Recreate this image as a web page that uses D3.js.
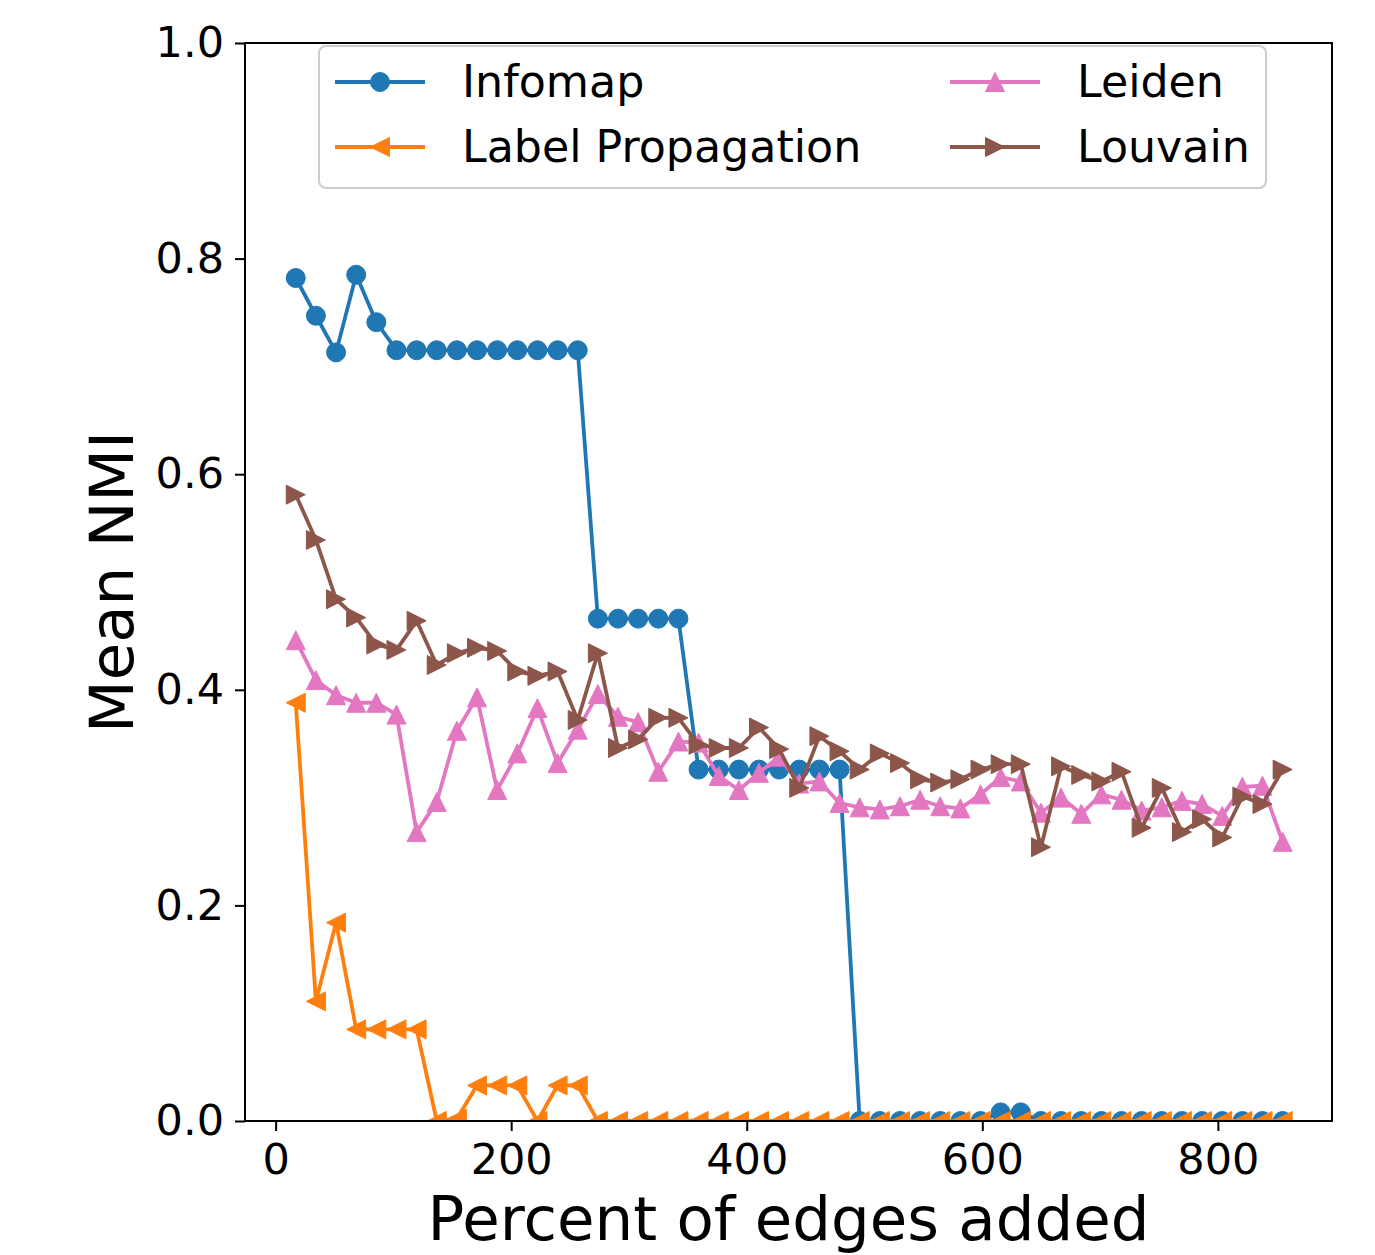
<!DOCTYPE html>
<html>
<head>
<meta charset="utf-8">
<script src="https://cdn.jsdelivr.net/npm/d3@7"></script>
<style>
  body { margin: 0; background: #fff; }
  svg { display: block; }
  text { font-family: "DejaVu Sans", sans-serif; fill: #000; }
</style>
</head>
<body>
<svg id="chart" width="1375" height="1255"></svg>
<script>
// ---- data ----
const percentAdded = [17.1, 34.2, 51.3, 68.4, 85.5, 102.6, 119.7, 136.8, 153.9, 171.0,
  188.1, 205.2, 222.3, 239.4, 256.5, 273.6, 290.7, 307.8, 324.9, 342.0,
  359.1, 376.2, 393.3, 410.4, 427.5, 444.6, 461.7, 478.8, 495.9, 513.0,
  530.1, 547.2, 564.3, 581.4, 598.5, 615.6, 632.7, 649.8, 666.9, 684.0,
  701.1, 718.2, 735.3, 752.4, 769.5, 786.6, 803.7, 820.8, 837.9, 855.0];

const infomap = [0.782, 0.747, 0.713, 0.785, 0.741, 0.715, 0.715, 0.715, 0.715, 0.715,
  0.715, 0.715, 0.715, 0.715, 0.715, 0.466, 0.466, 0.466, 0.466, 0.466,
  0.326, 0.326, 0.326, 0.326, 0.326, 0.326, 0.326, 0.326, 0.0, 0.0,
  0.0, 0.0, 0.0, 0.0, 0.0, 0.008, 0.008, 0.0, 0.0, 0.0,
  0.0, 0.0, 0.0, 0.0, 0.0, 0.0, 0.0, 0.0, 0.0, 0.0];

const labelPropagation = [0.388, 0.111, 0.184, 0.085, 0.085, 0.085, 0.085, 0.0, 0.002, 0.033,
  0.033, 0.033, 0.0, 0.033, 0.033, 0.0, 0.0, 0.0, 0.0, 0.0,
  0.0, 0.0, 0.0, 0.0, 0.0, 0.0, 0.0, 0.0, 0.0, 0.0,
  0.0, 0.0, 0.0, 0.0, 0.0, 0.0, 0.0, 0.0, 0.0, 0.0,
  0.0, 0.0, 0.0, 0.0, 0.0, 0.0, 0.0, 0.0, 0.0, 0.0];

const leiden = [0.446, 0.409, 0.395, 0.388, 0.388, 0.377, 0.268, 0.296, 0.362, 0.393,
  0.307, 0.341, 0.383, 0.332, 0.363, 0.396, 0.375, 0.370, 0.324, 0.352,
  0.351, 0.320, 0.307, 0.323, 0.338, 0.313, 0.315, 0.295, 0.291, 0.289,
  0.292, 0.298, 0.292, 0.290, 0.303, 0.319, 0.315, 0.286, 0.300, 0.285,
  0.303, 0.298, 0.288, 0.291, 0.297, 0.294, 0.283, 0.310, 0.311, 0.259];

const louvain = [0.581, 0.539, 0.484, 0.467, 0.442, 0.437, 0.464, 0.423, 0.434, 0.439,
  0.436, 0.417, 0.413, 0.417, 0.372, 0.434, 0.346, 0.354, 0.374, 0.374,
  0.349, 0.346, 0.346, 0.365, 0.345, 0.309, 0.357, 0.343, 0.326, 0.341,
  0.332, 0.317, 0.314, 0.317, 0.326, 0.331, 0.331, 0.254, 0.329, 0.321,
  0.315, 0.324, 0.272, 0.309, 0.268, 0.280, 0.263, 0.301, 0.294, 0.326];

const seriesNames = ["Infomap", "Label Propagation", "Leiden", "Louvain"];
const seriesColors = ["#1f77b4", "#ff7f0e", "#e377c2", "#8c564b"];
const seriesMarkers = ["circle", "triangleLeft", "triangleUp", "triangleRight"];
const xTicks = [0, 200, 400, 600, 800];
const yTicks = [0.0, 0.2, 0.4, 0.6, 0.8, 1.0];
const xLabel = "Percent of edges added";
const yLabel = "Mean NMI";

// ---- layout ----
const svg = d3.select("#chart");
const L = 245, R = 1332, T = 43, B = 1121;
const x = d3.scaleLinear().domain([-26.0, 896.9]).range([L, R]);
const y = d3.scaleLinear().domain([0, 1]).range([B, T]);

const MS = 19; // marker size px
function markerPath(type, s) {
  const h = s / 2;
  if (type === "circle") {
    return `M${h},0A${h},${h} 0 1,1 ${-h},0A${h},${h} 0 1,1 ${h},0Z`;
  }
  if (type === "triangleUp") return `M0,${-h}L${-h},${h}L${h},${h}Z`;
  if (type === "triangleLeft") return `M${-h},0L${h},${-h}L${h},${h}Z`;
  if (type === "triangleRight") return `M${h},0L${-h},${-h}L${-h},${h}Z`;
}

svg.append("defs").append("clipPath").attr("id", "plotclip")
  .append("rect").attr("x", L).attr("y", T).attr("width", R - L).attr("height", B - T);

const data = [infomap, labelPropagation, leiden, louvain];
const plot = svg.append("g").attr("clip-path", "url(#plotclip)");
const line = d3.line().x((d, i) => x(percentAdded[i])).y(d => y(d));

data.forEach((vals, si) => {
  const g = plot.append("g");
  g.append("path").datum(vals)
    .attr("d", line)
    .attr("fill", "none")
    .attr("stroke", seriesColors[si])
    .attr("stroke-width", 3.8)
    .attr("stroke-linejoin", "round")
    .attr("stroke-linecap", "square");
  g.selectAll("path.mk").data(vals).enter().append("path")
    .attr("class", "mk")
    .attr("d", markerPath(seriesMarkers[si], MS))
    .attr("transform", (d, i) => `translate(${x(percentAdded[i])},${y(d)})`)
    .attr("fill", seriesColors[si])
    .attr("stroke", seriesColors[si])
    .attr("stroke-width", 1);
});

// ---- axes ----
const xAxis = d3.axisBottom(x).tickValues(xTicks).tickFormat(d3.format("d"))
  .tickSizeInner(10).tickSizeOuter(0).tickPadding(12);
const yAxis = d3.axisLeft(y).tickValues(yTicks).tickFormat(d3.format(".1f"))
  .tickSizeInner(10).tickSizeOuter(0).tickPadding(11);

const gx = svg.append("g").attr("transform", `translate(0,${B})`).call(xAxis);
const gy = svg.append("g").attr("transform", `translate(${L},0)`).call(yAxis);
[gx, gy].forEach(g => {
  g.select(".domain").remove();
  g.selectAll(".tick line").attr("stroke", "#000").attr("stroke-width", 2);
  g.selectAll(".tick text").style("font-family", "DejaVu Sans").style("font-size", "43px").attr("fill", "#000");
});

// frame
svg.append("rect").attr("x", L).attr("y", T).attr("width", R - L).attr("height", B - T)
  .attr("fill", "none").attr("stroke", "#000").attr("stroke-width", 2);

// axis labels
svg.append("text").attr("x", (L + R) / 2).attr("y", 1240)
  .attr("text-anchor", "middle").style("font-size", "61px").text(xLabel);
svg.append("text").attr("transform", `translate(133,${(T + B) / 2}) rotate(-90)`)
  .attr("text-anchor", "middle").style("font-size", "61px").text(yLabel);

// ---- legend ----
const lg = svg.append("g");
lg.append("rect").attr("x", 319).attr("y", 46).attr("width", 947).attr("height", 142)
  .attr("rx", 7).attr("fill", "#fff").attr("fill-opacity", 0.8)
  .attr("stroke", "#cccccc").attr("stroke-width", 2);
const legPos = [[335, 82], [335, 147], [950, 82], [950, 147]];
seriesNames.forEach((name, si) => {
  const [lx, ly] = legPos[si];
  lg.append("line").attr("x1", lx).attr("x2", lx + 90).attr("y1", ly).attr("y2", ly)
    .attr("stroke", seriesColors[si]).attr("stroke-width", 3.8);
  lg.append("path").attr("d", markerPath(seriesMarkers[si], MS))
    .attr("transform", `translate(${lx + 45},${ly})`)
    .attr("fill", seriesColors[si]).attr("stroke", seriesColors[si]).attr("stroke-width", 1);
  lg.append("text").attr("x", lx + 127).attr("y", ly + 15)
    .style("font-size", "44.3px").text(name);
});
</script>
</body>
</html>
